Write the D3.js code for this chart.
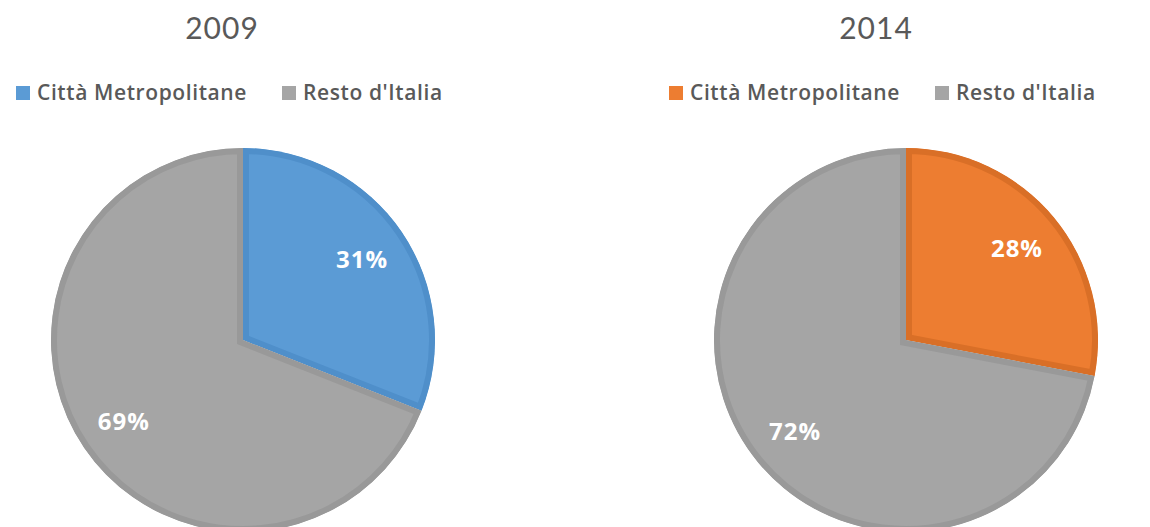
<!DOCTYPE html>
<meta charset="utf-8">
<html lang="it">
<head>
    <meta charset="utf-8">
    <style>
        body { margin: 0; background: #fff; }
        svg { display: block; }
        text { font-family: "Open Sans", Lato, sans-serif; }
    </style>
</head>
<body>
    <div id="my_dataviz"></div>
    <script src="https://d3js.org/d3.v7.min.js"></script>
    <script>
        // data
        var years = ["2009", "2014"];
        var categories = ["Città Metropolitane", "Resto d'Italia"];
        var values2009 = [31, 69];
        var values2014 = [28, 72];

        var width = 1150, height = 527;

        var svg = d3.select("#my_dataviz")
            .append("svg")
            .attr("width", width)
            .attr("height", height);

        // one entry per chart: fills, border colours and where things sit
        var charts = [
            { year: years[0], values: values2009, cx: 243, cy: 340, titleX: 222, legendX: [16, 282],
              fill: ["#5b9bd5", "#a5a5a5"], edge: ["#4f8fca", "#999999"] },
            { year: years[1], values: values2014, cx: 906, cy: 340, titleX: 876, legendX: [669, 935],
              fill: ["#ed7d31", "#a5a5a5"], edge: ["#d96f27", "#999999"] }
        ];

        var radius = 192, border = 6;

        var pie = d3.pie().sort(null).value(function (d) { return d; });
        var arc = d3.arc().innerRadius(0).outerRadius(radius);
        var labelArc = d3.arc().innerRadius(radius * 0.75).outerRadius(radius * 0.75);

        charts.forEach(function (c, ci) {
            // title
            svg.append("text")
                .attr("x", c.titleX)
                .attr("y", 39)
                .attr("text-anchor", "middle")
                .style("font-family", "Lato, sans-serif")
                .style("font-size", "30px")
                .style("letter-spacing", "1px")
                .style("fill", "#595959")
                .text(c.year);

            // legend
            var lg = svg.append("g");
            categories.forEach(function (name, i) {
                lg.append("rect")
                    .attr("x", c.legendX[i])
                    .attr("y", 86)
                    .attr("width", 14)
                    .attr("height", 14)
                    .style("fill", c.fill[i]);
                lg.append("text")
                    .attr("x", c.legendX[i] + 21)
                    .attr("y", 100)
                    .style("font-size", "21px")
                    .style("font-weight", 600)
                    .style("letter-spacing", "0.6px")
                    .style("fill", "#595959")
                    .text(name);
            });

            var g = svg.append("g")
                .attr("transform", "translate(" + c.cx + "," + c.cy + ")");

            var slices = pie(c.values);

            // clip each slice to itself so the border lies inside it
            g.selectAll("clipPath")
                .data(slices)
                .enter()
                .append("clipPath")
                .attr("id", function (d, i) { return "clip" + ci + "_" + i; })
                .append("path")
                .attr("d", arc);

            g.selectAll("path.slice")
                .data(slices)
                .enter()
                .append("path")
                .attr("class", "slice")
                .attr("d", arc)
                .attr("clip-path", function (d, i) { return "url(#clip" + ci + "_" + i + ")"; })
                .style("fill", function (d, i) { return c.fill[i]; })
                .style("stroke", function (d, i) { return c.edge[i]; })
                .style("stroke-width", border * 2)
                .style("stroke-linejoin", "miter");

            // data labels
            g.selectAll("text.lbl")
                .data(slices)
                .enter()
                .append("text")
                .attr("class", "lbl")
                .attr("transform", function (d) { return "translate(" + labelArc.centroid(d) + ")"; })
                .attr("text-anchor", "middle")
                .attr("dy", "0.36em")
                .style("font-size", "24px")
                .style("font-weight", "bold")
                .style("letter-spacing", "1px")
                .style("fill", "#ffffff")
                .text(function (d) { return d.data + "%"; });
        });
    </script>
</body>
</html>
